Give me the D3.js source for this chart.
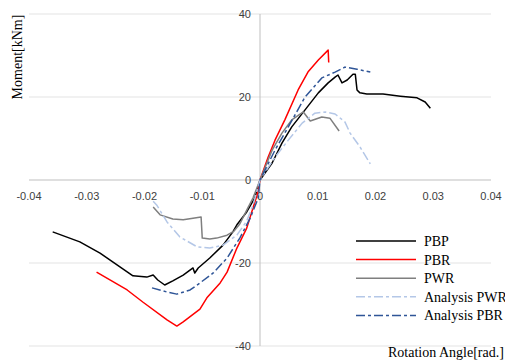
<!DOCTYPE html>
<html>
<head>
<meta charset="utf-8">
<script src="https://cdn.jsdelivr.net/npm/d3@7"></script>
<style>
  html, body { margin: 0; padding: 0; background: #fff; }
  svg { display: block; }
  .tick-label { font-family: "Liberation Sans", Arial, sans-serif; font-size: 11px; fill: #404040; }
  .title, .legend-text { font-family: "Liberation Serif", "Times New Roman", serif; font-size: 14px; fill: #000; }
</style>
</head>
<body>
<div id="chart"></div>
<script>
const width = 505;
const height = 364;

// rotation angle [rad.], moment [kNm]
const pbp = [
  [-0.0359, -12.5], [-0.0312, -14.9], [-0.0277, -17.6], [-0.0220, -23.1], [-0.0196, -23.4],
  [-0.0185, -22.9], [-0.0177, -24.1], [-0.0165, -25.3], [-0.0151, -24.3], [-0.0133, -22.9],
  [-0.0116, -21.2], [-0.0113, -22.4], [-0.0107, -21.2], [-0.0087, -18.8], [-0.0064, -15.7],
  [-0.0047, -12.5], [-0.0040, -10.8], [-0.0023, -7.7], [-0.0009, -4.3], [0, 0],
  [0.0021, 4.1], [0.0038, 8.9], [0.0055, 12.8], [0.0078, 16.9], [0.0101, 21.0],
  [0.0118, 23.4], [0.0130, 24.8], [0.0135, 25.3], [0.0142, 23.4], [0.0151, 24.1],
  [0.0161, 25.5], [0.0165, 25.5], [0.0168, 21.7], [0.0173, 21.0], [0.0185, 20.7],
  [0.0213, 20.7], [0.0243, 20.2], [0.0272, 19.8], [0.0286, 18.8], [0.0295, 17.3]
];
const pbr = [
  [-0.0283, -22.2], [-0.0230, -26.5], [-0.0203, -29.4], [-0.0161, -33.7], [-0.0144, -35.2],
  [-0.0133, -34.2], [-0.0104, -31.1], [-0.0092, -28.4], [-0.0069, -24.8], [-0.0057, -22.2],
  [-0.0040, -16.4], [-0.0023, -11.6], [-0.0012, -6.7], [-0.0005, -3.6], [0, 0],
  [0.0014, 5.5], [0.0026, 9.6], [0.0043, 14.5], [0.0066, 21.7], [0.0083, 26.0],
  [0.0101, 28.9], [0.0118, 31.3], [0.0119, 28.3]
];
const pwr = [
  [-0.0185, -6.5], [-0.0173, -8.4], [-0.0151, -9.4], [-0.0133, -9.6], [-0.0116, -9.2],
  [-0.0102, -8.9], [-0.0100, -14.0], [-0.0087, -14.2], [-0.0075, -14.0], [-0.0057, -13.3],
  [-0.0045, -12.3], [-0.0035, -10.6], [-0.0021, -6.7], [-0.0012, -4.3], [0, 0],
  [0.0021, 7.2], [0.0038, 11.3], [0.0055, 14.5], [0.0075, 16.4], [0.0087, 14.2],
  [0.0107, 15.2], [0.0121, 14.9], [0.0137, 11.8]
];
const analysisPwr = [
  [-0.0185, -5.1], [-0.0179, -6.0], [-0.0161, -10.1], [-0.0139, -13.7], [-0.0109, -16.1],
  [-0.0087, -16.4], [-0.0064, -15.7], [-0.0040, -13.3], [-0.0023, -9.9], [-0.0012, -6.0],
  [0, 0], [0.0026, 5.5], [0.0049, 9.6], [0.0073, 13.7], [0.0095, 16.1], [0.0113, 16.4],
  [0.0130, 15.9], [0.0147, 14.0], [0.0156, 11.3], [0.0173, 8.0], [0.0191, 3.9]
];
const analysisPbr = [
  [-0.0187, -26.0], [-0.0161, -27.0], [-0.0144, -27.5], [-0.0121, -26.5], [-0.0104, -24.8],
  [-0.0081, -22.4], [-0.0057, -18.8], [-0.0035, -14.0], [-0.0017, -9.2], [-0.0003, -4.3],
  [0, 0], [0.0026, 7.2], [0.0049, 12.8], [0.0078, 20.0], [0.0107, 24.6], [0.0130, 26.0],
  [0.0147, 27.2], [0.0168, 26.7], [0.0191, 26.0]
];

const xTicks = [-0.04, -0.03, -0.02, -0.01, 0, 0.01, 0.02, 0.03, 0.04];
const yTicks = [-40, -20, 0, 20, 40];

const series = [
  { name: 'PBP', data: pbp, color: '#000000', dash: null },
  { name: 'PBR', data: pbr, color: '#ff0000', dash: null },
  { name: 'PWR', data: pwr, color: '#7f7f7f', dash: null },
  { name: 'Analysis PWR', data: analysisPwr, color: '#b4c7e7', dash: '9,3,3,3' },
  { name: 'Analysis PBR', data: analysisPbr, color: '#2f5597', dash: '9,3,3,3' }
];

const x = d3.scaleLinear().domain([-0.04, 0.04]).range([29, 491]);
const y = d3.scaleLinear().domain([-40, 40]).range([346, 14]);

const svg = d3.select('#chart')
  .append('svg')
  .attr('width', width)
  .attr('height', height);

// gridlines
svg.append('g')
  .selectAll('line')
  .data(yTicks.filter((d) => d !== 0))
  .enter().append('line')
    .attr('x1', x(-0.04))
    .attr('x2', x(0.04))
    .attr('y1', (d) => y(d))
    .attr('y2', (d) => y(d))
    .attr('stroke', '#e3e3e3')
    .attr('stroke-width', 1);

// axis lines through the origin
svg.append('line')
  .attr('x1', x(-0.04)).attr('x2', x(0.04))
  .attr('y1', y(0)).attr('y2', y(0))
  .attr('stroke', '#bfbfbf');
svg.append('line')
  .attr('x1', x(0)).attr('x2', x(0))
  .attr('y1', y(40)).attr('y2', y(-40))
  .attr('stroke', '#bfbfbf');

// tick labels
svg.append('g')
  .selectAll('text')
  .data(xTicks)
  .enter().append('text')
    .attr('class', 'tick-label')
    .attr('x', (d) => x(d))
    .attr('y', y(0) + 20)
    .attr('text-anchor', 'middle')
    .text((d) => d === 0 ? '0' : d.toFixed(2));

svg.append('g')
  .selectAll('text')
  .data(yTicks)
  .enter().append('text')
    .attr('class', 'tick-label')
    .attr('x', x(0) - 9)
    .attr('y', (d) => y(d) + 4)
    .attr('text-anchor', 'end')
    .text((d) => d);

// curves
const line = d3.line()
  .x((d) => x(d[0]))
  .y((d) => y(d[1]));

svg.append('g')
  .selectAll('path')
  .data(series)
  .enter().append('path')
    .attr('d', (d) => line(d.data))
    .attr('fill', 'none')
    .attr('stroke', (d) => d.color)
    .attr('stroke-width', 1.5)
    .attr('stroke-linejoin', 'round')
    .attr('stroke-dasharray', (d) => d.dash);

// axis titles
svg.append('text')
  .attr('class', 'title')
  .attr('transform', 'translate(22, 57) rotate(-90)')
  .attr('text-anchor', 'middle')
  .text('Moment[kNm]');

svg.append('text')
  .attr('class', 'title')
  .attr('x', 388)
  .attr('y', 357)
  .text('Rotation Angle[rad.]');

// legend
const legend = svg.append('g')
  .selectAll('g')
  .data(series)
  .enter().append('g')
    .attr('transform', (d, i) => `translate(356, ${241 + i * 18.6})`);

legend.append('line')
  .attr('x1', 0).attr('x2', 60)
  .attr('y1', 0).attr('y2', 0)
  .attr('stroke', (d) => d.color)
  .attr('stroke-width', 1.5)
  .attr('stroke-dasharray', (d) => d.dash);

legend.append('text')
  .attr('class', 'legend-text')
  .attr('x', 68)
  .attr('y', 5)
  .text((d) => d.name);
</script>
</body>
</html>
